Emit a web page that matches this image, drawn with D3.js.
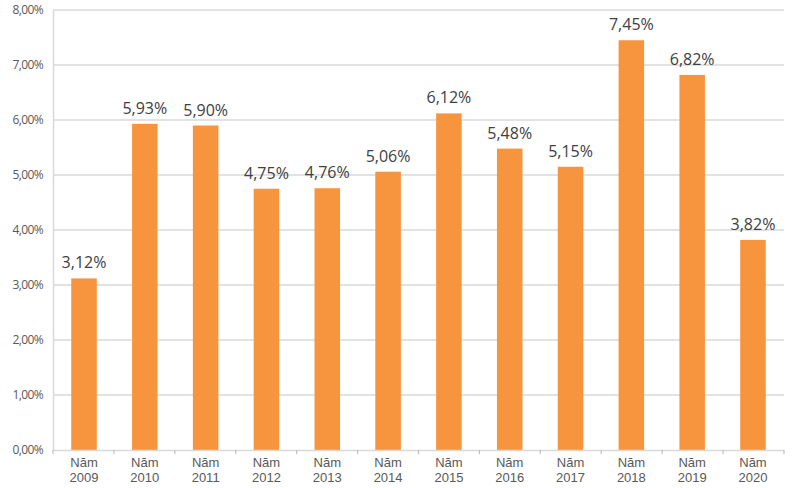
<!DOCTYPE html>
<html><head><meta charset="utf-8">
<script src="https://cdn.jsdelivr.net/npm/d3@7"></script>
<style>body{margin:0;background:#fff;font-family:"Open Sans",sans-serif;}</style>
</head><body><svg id="c" width="800" height="488"></svg>
<script>
const years = ["2009","2010","2011","2012","2013","2014","2015","2016","2017","2018","2019","2020"];
const values = [3.12,5.93,5.90,4.75,4.76,5.06,6.12,5.48,5.15,7.45,6.82,3.82];
const yTicks = [0,1,2,3,4,5,6,7,8];

const svg = d3.select("#c");
const m = {left:53, right:16, top:10, bottom:38};
const W = 800, H = 488;
const x = d3.scaleBand().domain(years).range([m.left, W-m.right]).paddingInner(0.58).paddingOuter(0.3);
const y = d3.scaleLinear().domain([0,8]).range([H-m.bottom, m.top]);
const fmt = v => v.toFixed(2).replace(".", ",") + "%";

// gridlines
svg.append("g").selectAll("line").data(yTicks.slice(1)).join("line")
  .attr("x1", m.left).attr("x2", W-m.right)
  .attr("y1", d=>y(d)).attr("y2", d=>y(d))
  .attr("stroke", "#d9d9d9").attr("stroke-width", 1.5);

// y axis
const ya = svg.append("g").attr("transform", `translate(${m.left},0)`)
  .call(d3.axisLeft(y).tickValues(yTicks).tickFormat(fmt).tickSize(0).tickPadding(10));
ya.select(".domain").attr("stroke", "#d9d9d9").attr("stroke-width", 1.5);
ya.selectAll("text").attr("fill", "#595959").style("font-size", "12px").style("font-family","Open Sans").style("letter-spacing","-0.6px");

// bars
svg.append("g").selectAll("rect").data(values).join("rect")
  .attr("x", (d,i)=>x(years[i])).attr("width", x.bandwidth())
  .attr("y", d=>y(d)).attr("height", d=>y(0)-y(d))
  .attr("fill", "#F7953F");

// x axis
const xb = d3.scaleBand().domain(years).range([m.left, W-m.right]);
const xa = svg.append("g").attr("transform", `translate(0,${y(0)})`)
  .call(d3.axisBottom(xb).tickSize(0).tickFormat(""));
xa.select(".domain").attr("stroke", "#d9d9d9").attr("stroke-width", 1.5);
svg.append("g").selectAll("line").data(years.concat(["end"])).join("line")
  .attr("x1", (d,i)=>m.left + i*xb.step()).attr("x2", (d,i)=>m.left + i*xb.step())
  .attr("y1", y(0)).attr("y2", y(0)+4).attr("stroke", "#bfbfbf").attr("stroke-width", 1.2);

// category labels
const cl = svg.append("g").selectAll("text").data(years).join("text")
  .attr("x", d=>x(d)+x.bandwidth()/2).attr("text-anchor","middle")
  .attr("fill", "#595959").style("font-size","13px").style("font-family","Liberation Sans");
cl.append("tspan").attr("x", d=>x(d)+x.bandwidth()/2).attr("y", y(0)+17).text("Năm");
cl.append("tspan").attr("x", d=>x(d)+x.bandwidth()/2).attr("y", y(0)+32).text(d=>d);

// data labels
svg.append("g").selectAll("text").data(values).join("text")
  .attr("x", (d,i)=>x(years[i])+x.bandwidth()/2).attr("y", d=>y(d)-10)
  .attr("text-anchor","middle").attr("fill","#404040")
  .style("font-size","16px").style("font-family","Open Sans")
  .text(fmt);
</script></body></html>
